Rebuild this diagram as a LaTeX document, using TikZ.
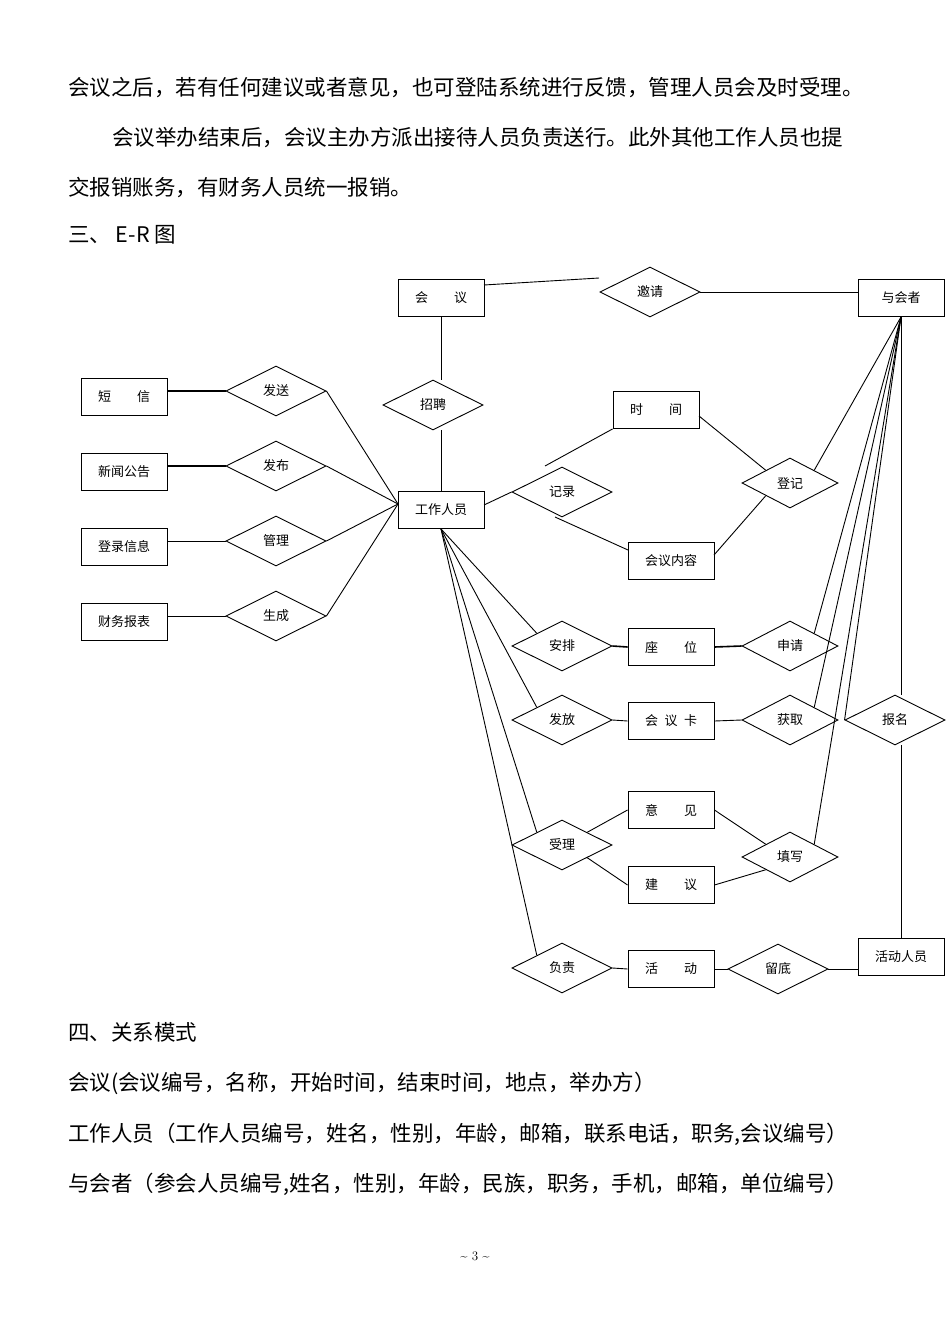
\documentclass[tikz,border=0pt]{standalone}
\usepackage{fontspec}
\newfontfamily\cjk{Noto Sans CJK SC}
\usetikzlibrary{shapes.geometric}
\begin{document}
\begin{tikzpicture}[x=1pt,y=-1pt,
 ent/.style={draw,line width=0.9pt,minimum width=86pt,minimum height=37pt,inner sep=0pt,font=\cjk\fontsize{13}{13}\selectfont},
 rel/.style={draw,diamond,line width=0.9pt,minimum width=100pt,minimum height=50pt,inner sep=0pt,fill=white,font=\cjk\fontsize{13}{13}\selectfont},
 para/.style={anchor=west,inner sep=0pt,font=\cjk\fontsize{21.5}{21.5}\selectfont},
 ln/.style={line width=0.9pt}]
\fill[white] (0,0) rectangle (950,1344);
\useasboundingbox (0,0) rectangle (950,1344);
% text
\node[para] (t1) at (68,88) {会议之后，若有任何建议或者意见，也可登陆系统进行反馈，管理人员会及时受理。};
\node[para] (t2) at (112,138) {会议举办结束后，会议主办方派出接待人员负责送行。此外其他工作人员也提};
\node[para] (t3) at (68,188) {交报销账务，有财务人员统一报销。};
\node[para] (t4) at (68,235) {三、 E-R 图};
\node[para] (t5) at (68,1032) {四、关系模式};
\node[para] (t6) at (68,1083) {会议(会议编号，名称，开始时间，结束时间，地点，举办方）};
\node[para] (t7) at (68,1134) {工作人员（工作人员编号，姓名，性别，年龄，邮箱，联系电话，职务,会议编号）};
\node[para] (t8) at (68,1184) {与会者（参会人员编号,姓名，性别，年龄，民族，职务，手机，邮箱，单位编号）};
\node[font=\fontsize{13}{13}\selectfont] (pg) at (475,1256) {\textasciitilde{} 3 \textasciitilde};
% entities
\node[ent] (hy) at (441,298) {会\hspace{2em}议};
\node[ent] (yh) at (901,298) {与会者};
\node[ent] (wr) at (441,510) {工作人员};
\node[ent] (dx) at (124,397) {短\hspace{2em}信};
\node[ent] (xw) at (124,472) {新闻公告};
\node[ent] (dl) at (124,547) {登录信息};
\node[ent] (cw) at (124,622) {财务报表};
\node[ent] (sj) at (656,410) {时\hspace{2em}间};
\node[ent] (nr) at (671,561) {会议内容};
\node[ent] (zw) at (671,647) {座\hspace{2em}位};
\node[ent] (hk) at (671,721) {会\hspace{0.5em}议\hspace{0.5em}卡};
\node[ent] (yj) at (671,810) {意\hspace{2em}见};
\node[ent] (jy) at (671,885) {建\hspace{2em}议};
\node[ent] (hd) at (671,969) {活\hspace{2em}动};
\node[ent] (hr) at (901,957) {活动人员};
% relations
\node[rel] (yq) at (650,292) {邀请};
\node[rel] (zp) at (433,405) {招聘};
\node[rel] (fs) at (276,391) {发送};
\node[rel] (fb) at (276,466) {发布};
\node[rel] (gl) at (276,541) {管理};
\node[rel] (sc) at (276,616) {生成};
\node[rel] (jl) at (562,492) {记录};
\node[rel,minimum width=96pt] (dj) at (790,483) {登记};
\node[rel] (ap) at (562,646) {安排};
\node[rel,minimum width=96pt] (sq) at (790,646) {申请};
\node[rel] (ff) at (562,720) {发放};
\node[rel,minimum width=96pt] (hq) at (790,720) {获取};
\node[rel] (bm) at (895,720) {报名};
\node[rel] (sl) at (562,845) {受理};
\node[rel,minimum width=96pt] (tx) at (790,857) {填写};
\node[rel] (fz) at (562,968) {负责};
\node[rel] (ld) at (778,969) {留底};
% connectors
\coordinate (hyr) at (484,285);
\coordinate (yqa) at (599,278);
\draw[ln] (hyr) -- (yqa);
\draw[ln] (yq.east) -- (yh.west |- yq.east);
\draw[ln] (hy.south -| 441,0) -- (zp.north -| 441,0);
\draw[ln] (zp.south -| 441,0) -- (wr.north);
\draw[ln,line width=1.6pt] (dx.east |- fs.west) -- (fs.west);
\draw[ln,line width=1.6pt] (xw.east |- fb.west) -- (fb.west);
\draw[ln] (dl.east |- gl.west) -- (gl.west);
\draw[ln] (cw.east |- sc.west) -- (sc.west);
\coordinate (wl) at (398,504);
\draw[ln] (fs.east) -- (wl);
\draw[ln] (fb.east) -- (wl);
\draw[ln] (gl.east) -- (wl);
\draw[ln] (sc.east) -- (wl);
\coordinate (wre) at (484,505);
\draw[ln] (wre) -- (jl.west);
\coordinate (jla) at (545,466);
\coordinate (jlb) at (555,517);
\coordinate (nra) at (628,550);
\draw[ln] (jla) -- (sj.south west);
\draw[ln] (jlb) -- (nra);
\coordinate (sja) at (699,416);
\coordinate (nrb) at (714,555);
\draw[ln] (sja) -- (dj.north west);
\draw[ln] (nrb) -- (dj.south west);
\draw[ln] (dj.north east) -- (yh.south);
\draw[ln] (wr.south) -- (ap.north west);
\draw[ln] (wr.south) -- (ff.north west);
\draw[ln] (wr.south) -- (sl.north west);
\draw[ln] (wr.south) -- (fz.north west);
\draw[ln,line width=1.6pt] (ap.east) -- (zw.west);
\draw[ln,line width=1.6pt] (zw.east) -- (sq.west);
\draw[ln] (sq.north east) -- (yh.south);
\draw[ln] (ff.east) -- (hk.west);
\draw[ln] (hk.east) -- (hq.west);
\draw[ln] (hq.north east) -- (yh.south);
\draw[ln] (bm.west) -- (yh.south);
\draw[ln] (yh.south) -- (bm.north -| yh.south);
\draw[ln] (bm.south -| yh.south) -- (hr.north);
\draw[ln] (sl.north east) -- (yj.west);
\draw[ln] (sl.south east) -- (jy.west);
\draw[ln] (yj.east) -- (tx.north west);
\draw[ln] (jy.east) -- (tx.south west);
\draw[ln] (tx.north east) -- (yh.south);
\draw[ln] (fz.east) -- (hd.west);
\draw[ln] (hd.east) -- (ld.west);
\draw[ln] (ld.east) -- (hr.west |- ld.east);
\end{tikzpicture}
\end{document}
